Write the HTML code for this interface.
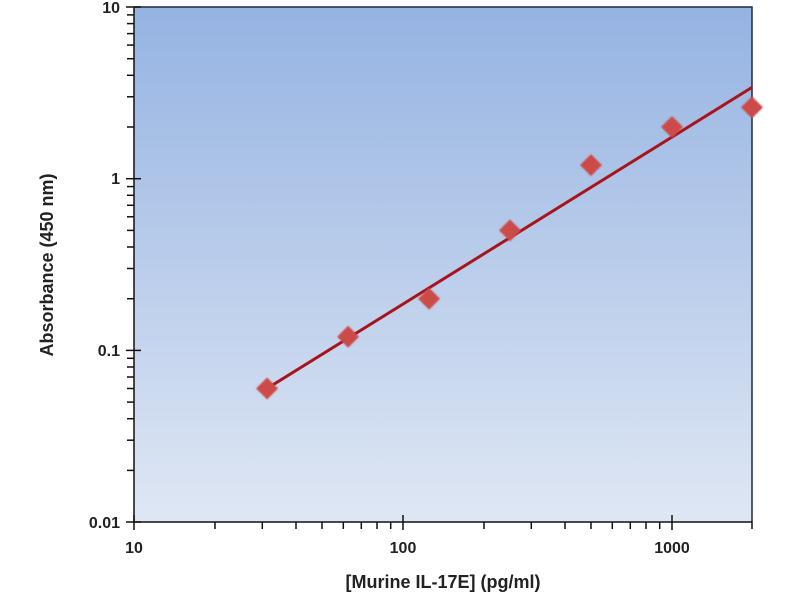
<!DOCTYPE html>
<html><head><meta charset="utf-8"><style>
html,body{margin:0;padding:0;background:#fff;}
svg{display:block;font-family:"Liberation Sans",sans-serif;}
</style></head><body>
<svg width="800" height="600" viewBox="0 0 800 600">
<defs>
<linearGradient id="g" x1="0" y1="0" x2="0" y2="1">
<stop offset="0" stop-color="#95b3e2"/>
<stop offset="1" stop-color="#dfe7f4"/>
</linearGradient>
<filter id="b"><feGaussianBlur stdDeviation="0.8"/></filter>
</defs>
<rect x="134" y="7" width="618" height="515" fill="url(#g)"/>
<path d="M134 7 H752 V522" fill="none" stroke="#1f2a3a" stroke-width="1.5"/>
<g stroke="#111" stroke-width="1.5">
<line x1="134" y1="515" x2="134" y2="530"/>
<line x1="215" y1="522" x2="215" y2="529"/>
<line x1="262.3" y1="522" x2="262.3" y2="529"/>
<line x1="296" y1="522" x2="296" y2="529"/>
<line x1="322" y1="522" x2="322" y2="529"/>
<line x1="343.3" y1="522" x2="343.3" y2="529"/>
<line x1="361.3" y1="522" x2="361.3" y2="529"/>
<line x1="377" y1="522" x2="377" y2="529"/>
<line x1="390.7" y1="522" x2="390.7" y2="529"/>
<line x1="403" y1="515" x2="403" y2="530"/>
<line x1="484" y1="522" x2="484" y2="529"/>
<line x1="531.3" y1="522" x2="531.3" y2="529"/>
<line x1="565" y1="522" x2="565" y2="529"/>
<line x1="591" y1="522" x2="591" y2="529"/>
<line x1="612.3" y1="522" x2="612.3" y2="529"/>
<line x1="630.3" y1="522" x2="630.3" y2="529"/>
<line x1="646" y1="522" x2="646" y2="529"/>
<line x1="659.7" y1="522" x2="659.7" y2="529"/>
<line x1="672" y1="515" x2="672" y2="530"/>
<line x1="752" y1="522" x2="752" y2="529"/>

<line x1="126" y1="7" x2="141" y2="7"/>
<line x1="126" y1="178.7" x2="141" y2="178.7"/>
<line x1="126" y1="350.4" x2="141" y2="350.4"/>
<line x1="126" y1="522" x2="141" y2="522"/>
<g>
<line x1="127" y1="470.4" x2="134" y2="470.4"/>
<line x1="127" y1="440.2" x2="134" y2="440.2"/>
<line x1="127" y1="418.7" x2="134" y2="418.7"/>
<line x1="127" y1="402.1" x2="134" y2="402.1"/>
<line x1="127" y1="388.5" x2="134" y2="388.5"/>
<line x1="127" y1="377" x2="134" y2="377"/>
<line x1="127" y1="367" x2="134" y2="367"/>
<line x1="127" y1="358.3" x2="134" y2="358.3"/>
<line x1="127" y1="298.7" x2="134" y2="298.7"/>
<line x1="127" y1="268.5" x2="134" y2="268.5"/>
<line x1="127" y1="247" x2="134" y2="247"/>
<line x1="127" y1="230.4" x2="134" y2="230.4"/>
<line x1="127" y1="216.8" x2="134" y2="216.8"/>
<line x1="127" y1="205.3" x2="134" y2="205.3"/>
<line x1="127" y1="195.3" x2="134" y2="195.3"/>
<line x1="127" y1="186.6" x2="134" y2="186.6"/>
<line x1="127" y1="127" x2="134" y2="127"/>
<line x1="127" y1="96.8" x2="134" y2="96.8"/>
<line x1="127" y1="75.3" x2="134" y2="75.3"/>
<line x1="127" y1="58.7" x2="134" y2="58.7"/>
<line x1="127" y1="45.1" x2="134" y2="45.1"/>
<line x1="127" y1="33.6" x2="134" y2="33.6"/>
<line x1="127" y1="23.6" x2="134" y2="23.6"/>
<line x1="127" y1="14.9" x2="134" y2="14.9"/>
</g>
</g>
<line x1="134" y1="7" x2="134" y2="522" stroke="#111" stroke-width="1.5"/>
<line x1="134" y1="522" x2="752" y2="522" stroke="#111" stroke-width="1.5"/>
<line x1="267" y1="388.5" x2="752" y2="87.4" stroke="#a8141c" stroke-width="3"/>
<g fill="#cc4b48" filter="url(#b)">
<path d="M267.1 377.5L278.1 388.5L267.1 399.5L256.1 388.5Z"/>
<path d="M348.1 325.8L359.1 336.8L348.1 347.8L337.1 336.8Z"/>
<path d="M429.1 287.7L440.1 298.7L429.1 309.7L418.1 298.7Z"/>
<path d="M510 219.4L521 230.4L510 241.4L499 230.4Z"/>
<path d="M591 154.1L602 165.1L591 176.1L580 165.1Z"/>
<path d="M672 116L683 127L672 138L661 127Z"/>
<path d="M752 96.4L763 107.4L752 118.4L741 107.4Z"/>
</g>
<g font-size="16" font-weight="bold" fill="#222">
<text x="120" y="13" text-anchor="end">10</text>
<text x="120" y="184" text-anchor="end">1</text>
<text x="120" y="356" text-anchor="end">0.1</text>
<text x="120" y="528" text-anchor="end">0.01</text>
<text x="134" y="553" text-anchor="middle">10</text>
<text x="403" y="553" text-anchor="middle">100</text>
<text x="672" y="553" text-anchor="middle">1000</text>
</g>
<text x="443" y="588" font-size="18" font-weight="bold" fill="#222" text-anchor="middle">[Murine IL-17E] (pg/ml)</text>
<text transform="translate(53,265) rotate(-90)" font-size="18" font-weight="bold" fill="#222" text-anchor="middle">Absorbance (450 nm)</text>
</svg>
</body></html>
